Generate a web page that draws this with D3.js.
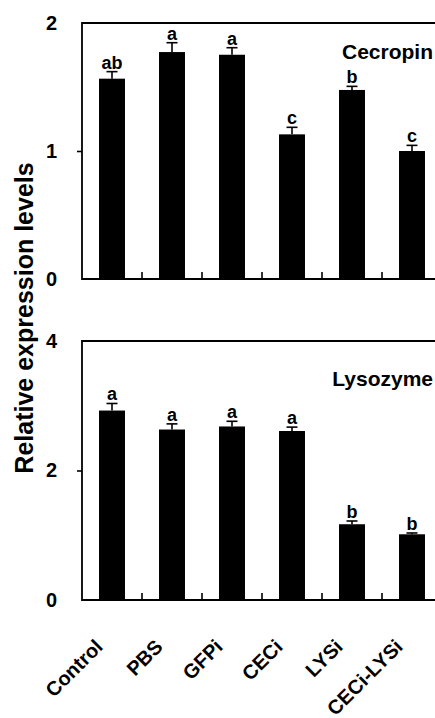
<!DOCTYPE html>
<html>
<head>
<meta charset="utf-8">
<script src="https://cdn.jsdelivr.net/npm/d3@7"></script>
<style>
  body { margin: 0; background: #fff; }
  svg { display: block; font-family: "Liberation Sans", Arial, sans-serif; }
</style>
</head>
<body>
<div id="chart"></div>
<script>
const categories = ["Control", "PBS", "GFPi", "CECi", "LYSi", "CECi-LYSi"];

// Cecropin panel
const cecropinMean = [1.565, 1.773, 1.752, 1.130, 1.477, 1.000];
const cecropinErr = [0.055, 0.073, 0.055, 0.055, 0.028, 0.044];
const cecropinLetters = ["ab", "a", "a", "c", "b", "c"];
const cecropinTicks = [0, 1, 2];

// Lysozyme panel
const lysozymeMean = [2.926, 2.633, 2.680, 2.610, 1.170, 1.015];
const lysozymeErr = [0.109, 0.087, 0.080, 0.060, 0.050, 0.020];
const lysozymeLetters = ["a", "a", "a", "a", "b", "b"];
const lysozymeTicks = [0, 2, 4];

const W = 435, H = 718;
const LEFT = 82, RIGHT = 442;

const svg = d3.select("#chart")
  .append("svg")
    .attr("width", W)
    .attr("height", H);

svg.append("rect").attr("width", W).attr("height", H).attr("fill", "#fff");

const x = d3.scaleBand()
  .domain(categories)
  .range([LEFT, RIGHT])
  .paddingInner(0.567)
  .paddingOuter(0.2835);

function panel(means, errs, letters, ticks, top, bottom, name, nameY) {
  const y = d3.scaleLinear()
    .domain([ticks[0], ticks[ticks.length - 1]])
    .range([bottom, top]);

  const g = svg.append("g");
  const rows = categories.map((c, i) => ({ c: c, v: means[i], e: errs[i], l: letters[i] }));

  // bars
  g.selectAll("rect.bar")
    .data(rows)
    .enter().append("rect")
      .attr("class", "bar")
      .attr("x", d => x(d.c))
      .attr("y", d => y(d.v))
      .attr("width", x.bandwidth())
      .attr("height", d => y(0) - y(d.v))
      .attr("fill", "#000");

  // upper error bars
  const cx = d => x(d.c) + x.bandwidth() / 2;
  g.selectAll("line.stem")
    .data(rows)
    .enter().append("line")
      .attr("x1", cx).attr("x2", cx)
      .attr("y1", d => y(d.v)).attr("y2", d => y(d.v + d.e))
      .attr("stroke", "#000").attr("stroke-width", 1.6);
  g.selectAll("line.cap")
    .data(rows)
    .enter().append("line")
      .attr("x1", d => cx(d) - 5.5).attr("x2", d => cx(d) + 5.5)
      .attr("y1", d => y(d.v + d.e)).attr("y2", d => y(d.v + d.e))
      .attr("stroke", "#000").attr("stroke-width", 1.6);

  // significance letters
  g.selectAll("text.sig")
    .data(rows)
    .enter().append("text")
      .attr("x", cx)
      .attr("y", d => y(d.v + d.e) - 3)
      .attr("text-anchor", "middle")
      .style("font-size", "18px")
      .style("font-weight", "bold")
      .text(d => d.l);

  // y axis
  const yAxis = g.append("g")
    .attr("transform", `translate(${LEFT},0)`)
    .call(d3.axisLeft(y).tickValues(ticks).tickSize(5).tickPadding(20).tickSizeOuter(0).tickFormat(d3.format("d")));
  yAxis.select(".domain").remove();
  yAxis.selectAll(".tick line")
    .attr("stroke-width", 1.6)
    .filter((d, i) => i === 0 || i === ticks.length - 1).remove();
  yAxis.selectAll(".tick text")
    .attr("fill", "#000")
    .style("font-size", "20px")
    .style("font-weight", "bold")
    .style("font-family", "'Liberation Sans', Arial, sans-serif");

  // frame: left, top, bottom
  g.append("path")
    .attr("d", `M${RIGHT},${y.range()[1]}H${LEFT}V${y(0)}H${RIGHT}`)
    .attr("fill", "none")
    .attr("stroke", "#000")
    .attr("stroke-width", 1.8);

  // category separators, pointing up from the baseline
  g.selectAll("line.sep")
    .data(categories.slice(1))
    .enter().append("line")
      .attr("x1", d => x(d) - x.step() * x.paddingInner() / 2)
      .attr("x2", d => x(d) - x.step() * x.paddingInner() / 2)
      .attr("y1", y(0)).attr("y2", y(0) - 7)
      .attr("stroke", "#000").attr("stroke-width", 1.6);

  g.append("text")
    .attr("x", 433)
    .attr("y", nameY)
    .attr("text-anchor", "end")
    .style("font-size", "21px")
    .style("font-weight", "bold")
    .text(name);

  return y;
}

panel(cecropinMean, cecropinErr, cecropinLetters, cecropinTicks, 23, 279, "Cecropin", 59);
const yLow = panel(lysozymeMean, lysozymeErr, lysozymeLetters, lysozymeTicks, 341, 600, "Lysozyme", 386);

// x labels, rotated 45 degrees
const xLabels = svg.selectAll("g.xlab")
  .data(categories)
  .enter().append("g")
    .attr("class", "xlab")
    .attr("transform", d => `translate(${Math.round(x(d) + x.bandwidth() / 2 - 8)},${Math.round(yLow(0) + 48)})`);

xLabels.append("text")
  .attr("text-anchor", "end")
  .attr("transform", "rotate(-45)")
  .style("font-size", "20px")
  .style("font-weight", "bold")
  .text(d => d);

// y axis title
svg.append("text")
  .attr("transform", "translate(33,318) rotate(-90)")
  .attr("text-anchor", "middle")
  .style("font-size", "25px")
  .style("font-weight", "bold")
  .text("Relative expression levels");
</script>
</body>
</html>
